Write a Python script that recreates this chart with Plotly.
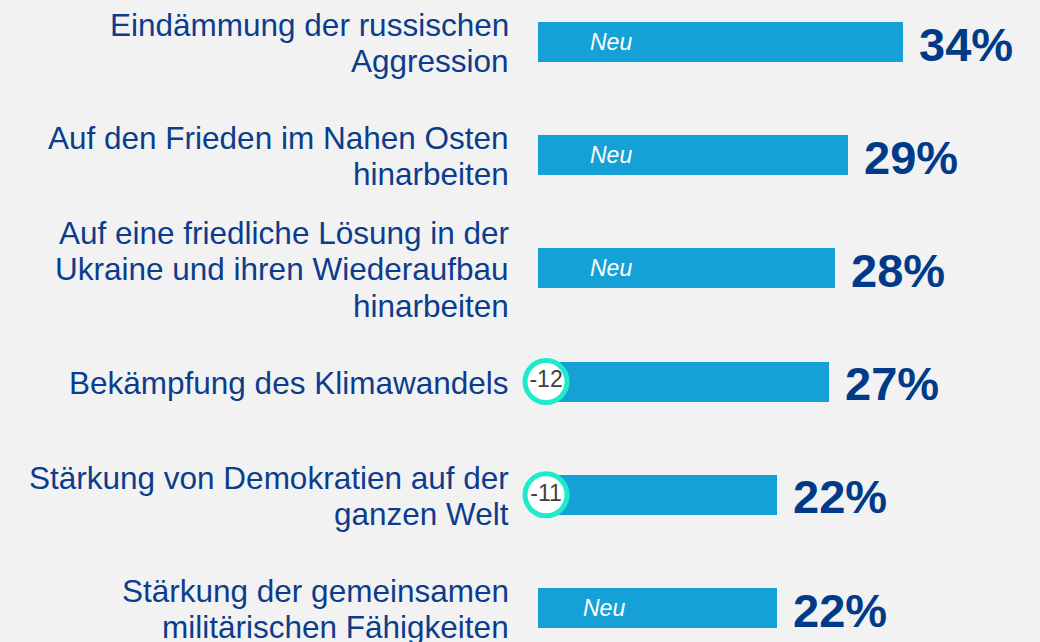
import plotly.graph_objects as go

# ---- data ----
categories = [
    "Eindämmung der russischen\nAggression",
    "Auf den Frieden im Nahen Osten\nhinarbeiten",
    "Auf eine friedliche Lösung in der\nUkraine und ihren Wiederaufbau\nhinarbeiten",
    "Bekämpfung des Klimawandels",
    "Stärkung von Demokratien auf der\nganzen Welt",
    "Stärkung der gemeinsamen\nmilitärischen Fähigkeiten",
]
values = [34.0, 28.9, 27.7, 27.1, 22.3, 22.3]
value_labels = ["34%", "29%", "28%", "27%", "22%", "22%"]
notes = ["Neu", "Neu", "Neu", None, None, "Neu"]
changes = [None, None, None, "-12", "-11", None]

# ---- style ----
BG = "#F2F2F2"
BAR = "#15A1D5"
LABEL_COL = "#0B3D8C"
VALUE_COL = "#003A88"
RING = "#1EEBCB"
FONT = "Liberation Sans, Arial, sans-serif"

W, H = 1040, 642
L = 538
px_per_unit_x = 10.73
x_max = (W - L) / px_per_unit_x
row_px = 113.2
first_center = 42
y_top = -first_center / row_px
y_bot = (H - first_center) / row_px
line_h = 36.5

ys = list(range(len(categories)))

fig = go.Figure()
fig.add_trace(go.Bar(
    x=values, y=ys, orientation="h",
    marker=dict(color=BAR, line=dict(width=0)),
    width=40 / row_px,
    hoverinfo="skip",
))

# change circles
cy = [y for y, c in zip(ys, changes) if c]
ct = [c for c in changes if c]
fig.add_trace(go.Scatter(
    x=[0.75] * len(cy), y=cy, mode="markers+text",
    text=ct, textposition="middle center",
    textfont=dict(family=FONT, size=23, color="#3F3F3F"),
    marker=dict(size=42, color="white", line=dict(color=RING, width=5)),
    cliponaxis=False, hoverinfo="skip",
))

annotations = []
for y, cat in zip(ys, categories):
    lines = cat.split("\n")
    n = len(lines)
    for i, ln in enumerate(lines):
        annotations.append(dict(
            x=0, y=y, xref="x", yref="y", text=ln, showarrow=False,
            xanchor="right", yanchor="middle", xshift=-27,
            yshift=-((i - (n - 1) / 2) * line_h) - 1,
            font=dict(family=FONT, size=31.5, color=LABEL_COL),
        ))

for y, v, vl in zip(ys, values, value_labels):
    annotations.append(dict(
        x=v, y=y, xref="x", yref="y", text="<b>" + vl + "</b>", showarrow=False,
        xanchor="left", yanchor="middle", xshift=14, yshift=-2,
        font=dict(family=FONT, size=47, color=VALUE_COL),
    ))

for y, nt in zip(ys, notes):
    if nt:
        annotations.append(dict(
            x=0, y=y, xref="x", yref="y", text="<i>" + nt + "</i>", showarrow=False,
            xanchor="left", yanchor="middle", xshift=(43 if y == 5 else 50), yshift=0,
            font=dict(family=FONT, size=23, color="white"),
        ))

fig.update_layout(
    width=W, height=H,
    margin=dict(l=L, r=0, t=0, b=0),
    paper_bgcolor=BG, plot_bgcolor=BG,
    showlegend=False,
    xaxis=dict(range=[0, x_max], visible=False, fixedrange=True),
    yaxis=dict(range=[y_bot, y_top], visible=False, fixedrange=True),
    annotations=annotations,
    bargap=0,
)

fig.write_html(
    "out.html",
    config={"displayModeBar": False},
    post_script="document.body.style.margin='0';document.body.style.overflow='hidden';",
)
